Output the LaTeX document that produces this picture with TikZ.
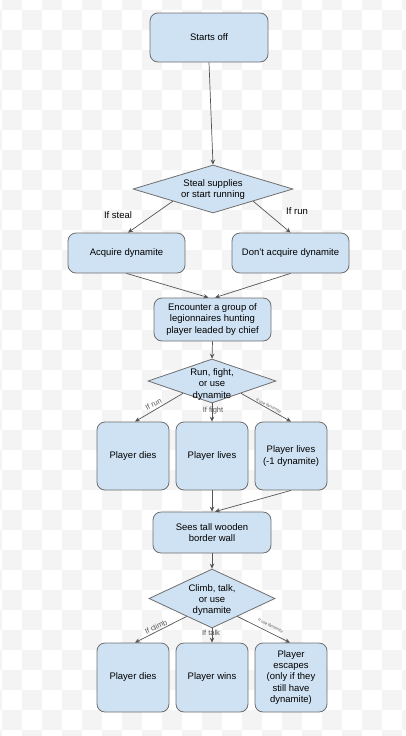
\documentclass[tikz,border=0pt]{standalone}
\usepackage{fontspec}
\setmainfont{Liberation Sans}
\usetikzlibrary{shapes.geometric,arrows.meta,calc}
\definecolor{boxfill}{HTML}{CFE2F3}
\definecolor{boxline}{HTML}{6E6E6E}
\definecolor{edgeline}{HTML}{555555}
\definecolor{checker}{HTML}{F4F4F4}
\definecolor{lblgray}{HTML}{555555}
\tikzset{
  box/.style={draw=boxline, fill=boxfill, rounded corners=8pt, line width=0.8pt,
    align=center, inner sep=1pt, font=\fontsize{9.5}{11.3}\selectfont},
  dia/.style={draw=boxline, fill=boxfill, diamond, line width=0.8pt, inner sep=0pt},
  diatext/.style={align=center, inner sep=0pt, font=\fontsize{9.5}{11.3}\selectfont},
  conn/.style={draw=edgeline, line width=0.7pt, -{Stealth[length=5pt,width=4.5pt]}},
  lbl/.style={inner sep=0pt, font=\fontsize{9.5}{11}\selectfont},
  smlbl/.style={inner sep=0pt, text=lblgray, font=\fontsize{7.5}{8}\selectfont},
  tinylbl/.style={inner sep=0pt, text=lblgray, font=\fontsize{4}{4.5}\selectfont},
}
\begin{document}
\begin{tikzpicture}[x=1pt, y=-1pt]
\useasboundingbox (0,0) rectangle (406,736);
% checkered background
\begin{scope}
\clip (0,0) rectangle (406,736);
\foreach \i in {-1,...,20} {
  \foreach \j in {-1,...,36} {
    \pgfmathtruncatemacro{\cpar}{mod(\i+\j+100,2)}
    \ifnum\cpar=1
      \fill[checker] (2+20*\i, 10+20*\j) rectangle ++(20,20);
    \fi
  }
}
\end{scope}

% nodes
\node[box, minimum width=118pt, minimum height=49pt] (start) at (209,37.5) {Starts off};
\node[dia, minimum width=160pt, minimum height=48pt] (d1) at (213,189) {};
\node[diatext] (d1t) at (213,189.5) {Steal supplies\\or start running};
\node[box, minimum width=117pt, minimum height=40pt] (acq) at (126.5,253) {Acquire dynamite};
\node[box, minimum width=117pt, minimum height=40pt] (nacq) at (290.5,253) {Don't acquire dynamite};
\node[box, minimum width=117pt, minimum height=43pt] (enc) at (212.5,319.5) {Encounter a group of\\legionnaires hunting\\player leaded by chief};
\node[dia, minimum width=128pt, minimum height=44pt] (d2) at (212,381) {};
\node[diatext] (d2t) at (212,384.5) {Run, fight,\\or use\\dynamite};
\node[box, minimum width=72pt, minimum height=68pt] (r1) at (133,456) {Player dies};
\node[box, minimum width=72pt, minimum height=68pt] (r2) at (212,456) {Player lives};
\node[box, minimum width=72pt, minimum height=68pt] (r3) at (291,456) {Player lives\\(-1 dynamite)};
\node[box, minimum width=118pt, minimum height=41pt] (wall) at (212,532.5) {Sees tall wooden\\border wall};
\node[dia, minimum width=126pt, minimum height=59pt] (d3) at (212,598.5) {};
\node[diatext] (d3t) at (212,600) {Climb, talk,\\or use\\dynamite};
\node[box, minimum width=72pt, minimum height=69pt] (b1) at (133,677.5) {Player dies};
\node[box, minimum width=72pt, minimum height=69pt] (b2) at (212,677.5) {Player wins};
\node[box, minimum width=72pt, minimum height=69pt] (b3) at (291,677.5) {Player\\escapes\\(only if they\\still have\\dynamite)};

% connectors
\draw[conn] (start.south) -- (d1.north);
\draw[conn] ($(d1.west)!0.5!(d1.south)$) -- ([xshift=1.5pt]acq.north);
\draw[conn] ($(d1.east)!0.5!(d1.south)$) -- (nacq.north);
\draw[conn] (acq.south) -- ([xshift=-4pt]enc.north);
\draw[conn] (nacq.south) -- ([xshift=2.5pt]enc.north);
\draw[conn] (enc.south) -- (d2.north);
\draw[conn] ($(d2.west)!0.55!(d2.south)$) -- ([xshift=2pt]r1.north);
\draw[conn] (d2.south) -- (r2.north);
\draw[conn] ($(d2.east)!0.55!(d2.south)$) -- (r3.north);
\draw[conn] (r2.south) -- (wall.north);
\draw[conn] (r3.south) -- ([xshift=3pt]wall.north);
\draw[conn] (wall.south) -- (d3.north);
\draw[conn] ($(d3.west)!0.6!(d3.south)$) -- ([xshift=2pt]b1.north);
\draw[conn] (d3.south) -- (b2.north);
\draw[conn] ($(d3.east)!0.6!(d3.south)$) -- ([xshift=-1pt]b3.north);

% labels
\node[lbl] (lsteal) at (118,215) {If steal};
\node[lbl] (lrun) at (297,211) {If run};
\node[smlbl, rotate=27] (lrun2) at (153.5,404.5) {If run};
\node[smlbl] (lfight) at (213,411) {If fight};
\node[tinylbl, rotate=-27] (ldyn2) at (268.5,406) {If use dynamite};
\node[smlbl, rotate=26] (lclimb) at (156,627) {If climb};
\node[smlbl] (ltalk) at (211,633) {If talk};
\node[tinylbl, rotate=-27] (ldyn3) at (270.5,626) {If use dynamite};
\end{tikzpicture}
\end{document}
